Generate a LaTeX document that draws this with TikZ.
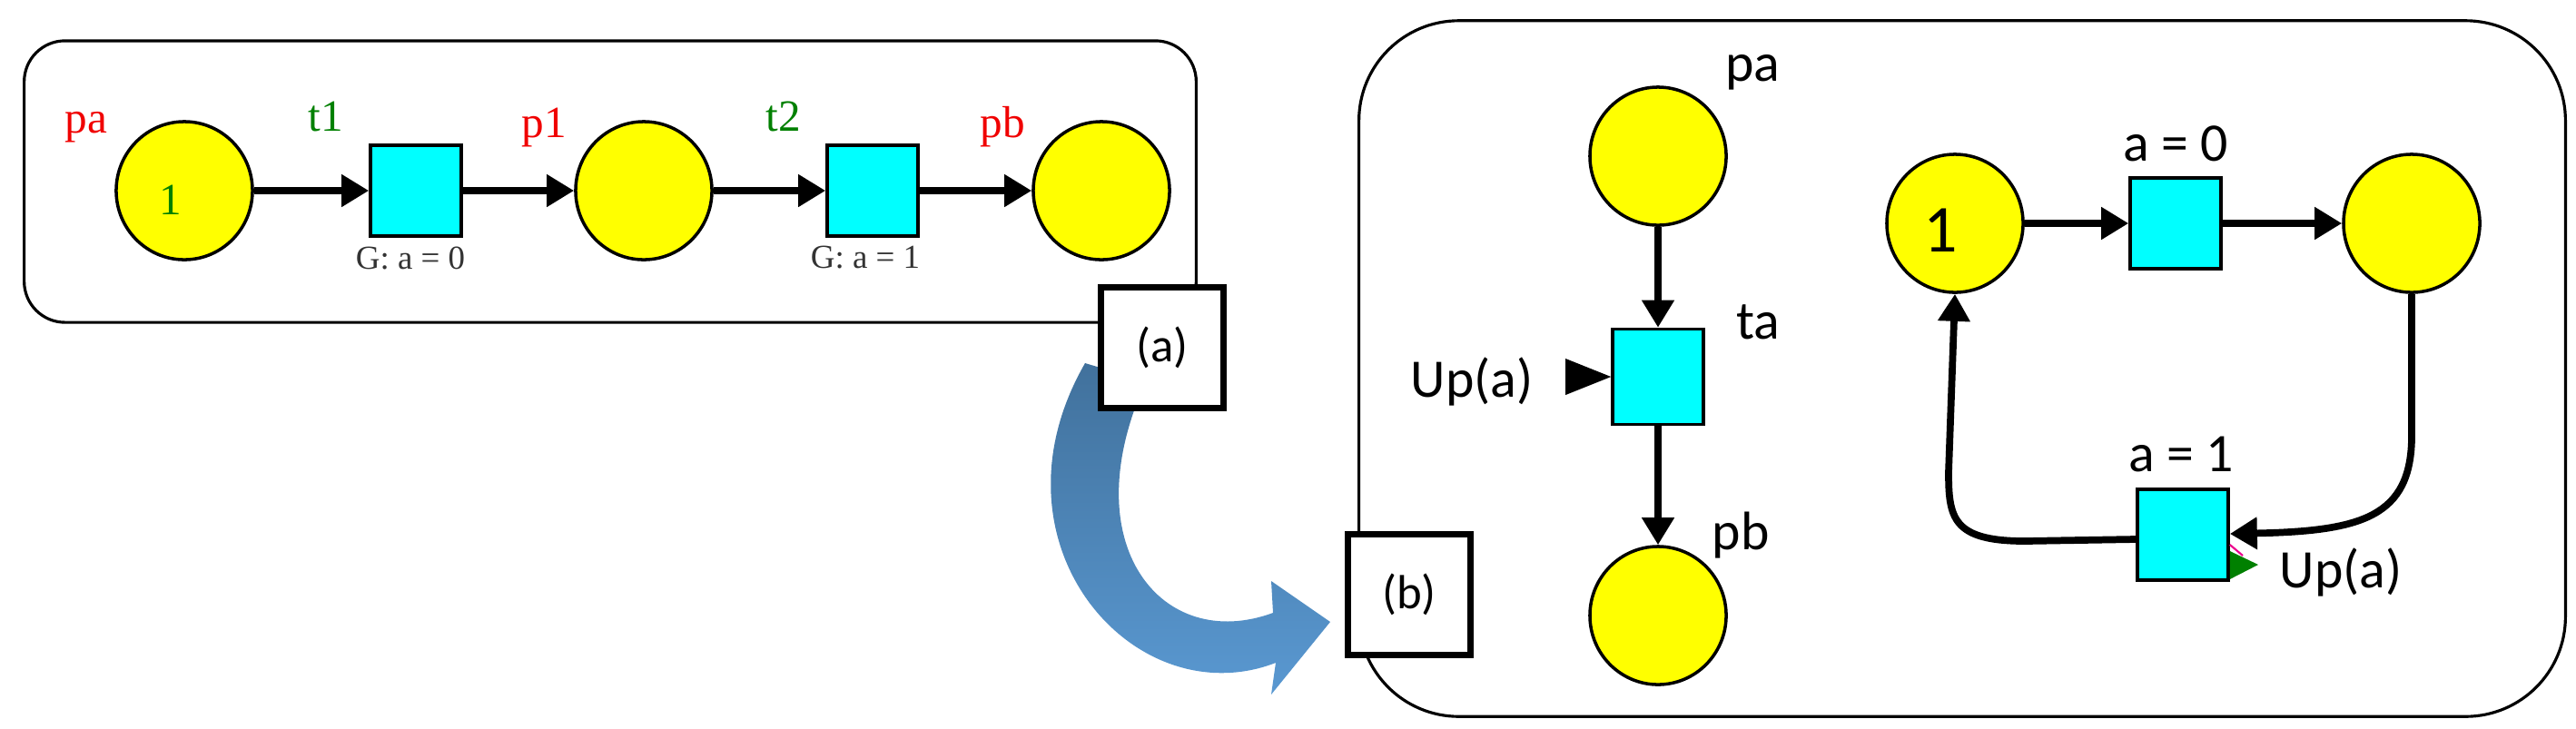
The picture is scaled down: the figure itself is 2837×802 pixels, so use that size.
\documentclass[tikz,border=0pt]{standalone}
\usepackage{fontspec}
\setmainfont{Liberation Serif}
\newfontfamily\carfont{Carlito}
\usetikzlibrary{arrows.meta,shapes.geometric}
\definecolor{plc}{RGB}{255,255,0}
\definecolor{trc}{RGB}{0,255,255}
\definecolor{lred}{RGB}{240,0,0}
\definecolor{lgreen}{RGB}{0,128,0}
\definecolor{bdark}{RGB}{65,113,156}
\definecolor{blight}{RGB}{91,155,213}
\begin{document}
\begin{tikzpicture}[x=0.01cm,y=-0.01cm,
  place/.style={ellipse,draw=black,line width=1pt,fill=plc,minimum width=1.5cm,minimum height=1.52cm,inner sep=0pt},
  trans/.style={rectangle,draw=black,line width=1pt,fill=trc,minimum width=1.0cm,minimum height=1.0cm,inner sep=0pt},
  arc/.style={line width=2.2pt,-{Triangle[length=0.3cm,width=0.34cm]}},
  lab/.style={inner sep=0pt},
  tagbox/.style={draw=black,line width=2pt,fill=white,minimum width=1.35cm,minimum height=1.32cm,inner sep=0pt,font=\carfont\fontsize{15pt}{15pt}\selectfont}]
\useasboundingbox (0,0) rectangle (2837,802);
% panel a
\node[draw=black,line width=0.9pt,rounded corners=0.45cm,minimum width=12.9cm,minimum height=3.1cm] (boxa) at (672,200) {};
\node[place] (pa) at (203,210) {};
\node[lab,text=lgreen,font=\fontsize{14pt}{14pt}\selectfont] (tok1) at (188,220) {1};
\node[trans] (t1) at (458,210) {};
\node[place] (p1) at (709,210) {};
\node[trans] (t2) at (961,210) {};
\node[place] (pb) at (1213,210) {};
\draw[arc] (pa) -- (t1);
\draw[arc] (t1) -- (p1);
\draw[arc] (p1) -- (t2);
\draw[arc] (t2) -- (pb);
\begin{scope}[font=\fontsize{14pt}{14pt}\selectfont]
\node[lab,text=lred] (lpa) at (95,140) {pa};
\node[lab,text=lgreen] (lt1) at (359,128) {t1};
\node[lab,text=lred] (lp1) at (599,140) {p1};
\node[lab,text=lgreen] (lt2) at (863,128) {t2};
\node[lab,text=lred] (lpb) at (1104,140) {pb};
\end{scope}
\node[lab,font=\fontsize{10.5pt}{10.5pt}\selectfont,text=black!80] (g1) at (452,284) {G: a = 0};
\node[lab,font=\fontsize{10.5pt}{10.5pt}\selectfont,text=black!80] (g2) at (953,284) {G: a = 1};
% panel b
\node[draw=black,line width=0.9pt,rounded corners=1.1cm,minimum width=13.28cm,minimum height=7.66cm] (boxb) at (2161,406) {};
% blue curved arrow
\shade[left color=bdark,right color=blight,shading angle=0]
  (1195,400) .. controls (1080,600) and (1250,790) .. (1405,730)
  -- (1400,765) -- (1465,685) -- (1400,640) -- (1402,675)
  .. controls (1280,720) and (1180,600) .. (1262,420) -- cycle;
\node[tagbox] (la) at (1280,383) {(a)};
\node[tagbox] (lb) at (1552,655) {(b)};
\begin{scope}[font=\carfont\fontsize{17pt}{17pt}\selectfont]
\node[place] (qa) at (1826,172) {};
\node[trans,minimum height=1.05cm] (ta) at (1826,415) {};
\node[place] (qb) at (1826,678) {};
\draw[arc] (qa) -- (ta);
\draw[arc] (ta) -- (qb);
\node[lab] (lqa) at (1930,80) {pa};
\node[lab] (lta) at (1936,355) {ta};
\node[lab] (lqb) at (1917,590) {pb};
\node[lab] (up1) at (1621,420) {Up(a)};
\fill (ta.west) -- ++(-50,-20) -- ++(0,40) -- cycle;
\node[place] (r1) at (2153,246) {};
\node[lab,font=\carfont\fontsize{21pt}{21pt}\selectfont] (tok2) at (2137,254) {1};
\node[trans] (ra) at (2396,246) {};
\node[place] (r2) at (2656,246) {};
\node[trans] (rb) at (2404,589) {};
\draw[arc] (r1) -- (ra);
\draw[arc] (ra) -- (r2);
\draw[arc] (r2.south) -- (2656,480) .. controls (2656,570) and (2600,585) .. (rb.east |- 2404,588);
\draw[arc] (rb.west |- 2404,594) -- (2230,596) .. controls (2150,596) and (2146,570) .. (2146,520) -- (r1.south);
\node[lab] (lra) at (2396,158) {a = 0};
\node[lab] (lrb) at (2402,500) {a = 1};
\node[lab] (up2) at (2578,630) {Up(a)};
\fill[lgreen] (rb.east |- 2404,607) -- (2487,622) -- (rb.east |- 2404,638) -- cycle;
\draw[magenta,line width=0.6pt] (rb.east |- 2404,600) -- (2470,612);
\end{scope}
\end{tikzpicture}
\end{document}
